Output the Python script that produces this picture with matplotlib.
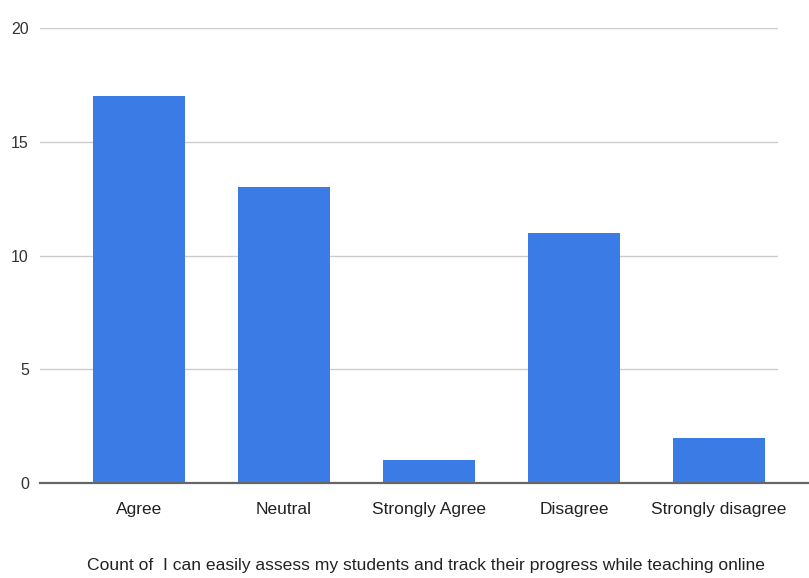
import matplotlib
matplotlib.use("Agg")
import matplotlib.pyplot as plt
import numpy as np

categories = ["Agree", "Neutral", "Strongly Agree", "Disagree", "Strongly disagree"]
counts = [17, 13, 1, 11, 2]
y_ticks = [0, 5, 10, 15, 20]
x_title = "Count of  I can easily assess my students and track their progress while teaching online"

plt.rcParams["font.family"] = ["Liberation Sans", "DejaVu Sans"]

fig = plt.figure(figsize=(8.09, 5.78), dpi=100)
ax = fig.add_axes([40 / 809, 95 / 578, 738 / 809, 455 / 578])

x = np.arange(len(categories))
ax.bar(x, counts, width=0.635, color="#3b7be6", zorder=3)

ax.set_xlim(-0.683, 4.407)
ax.set_ylim(0, 20)
ax.set_yticks(y_ticks)
ax.set_yticklabels([str(v) for v in y_ticks], fontsize=11.5, color="#333333")
ax.set_xticks(x)
ax.set_xticklabels(categories, fontsize=12.5, color="#222222")
ax.tick_params(axis="both", length=0)
ax.tick_params(axis="x", pad=14)
ax.tick_params(axis="y", pad=8)

ax.grid(axis="y", color="#cccccc", linewidth=1, zorder=0)
for s in ax.spines.values():
    s.set_visible(False)
ax.axhline(0, xmin=0, xmax=(809 - 40) / 738, color="#666666", linewidth=1.6,
           clip_on=False, zorder=4)

ax.set_xlabel(x_title, fontsize=12.6, color="#222222")
ax.xaxis.set_label_coords(0.523, -0.165)

fig.savefig("out.png", dpi=100)
